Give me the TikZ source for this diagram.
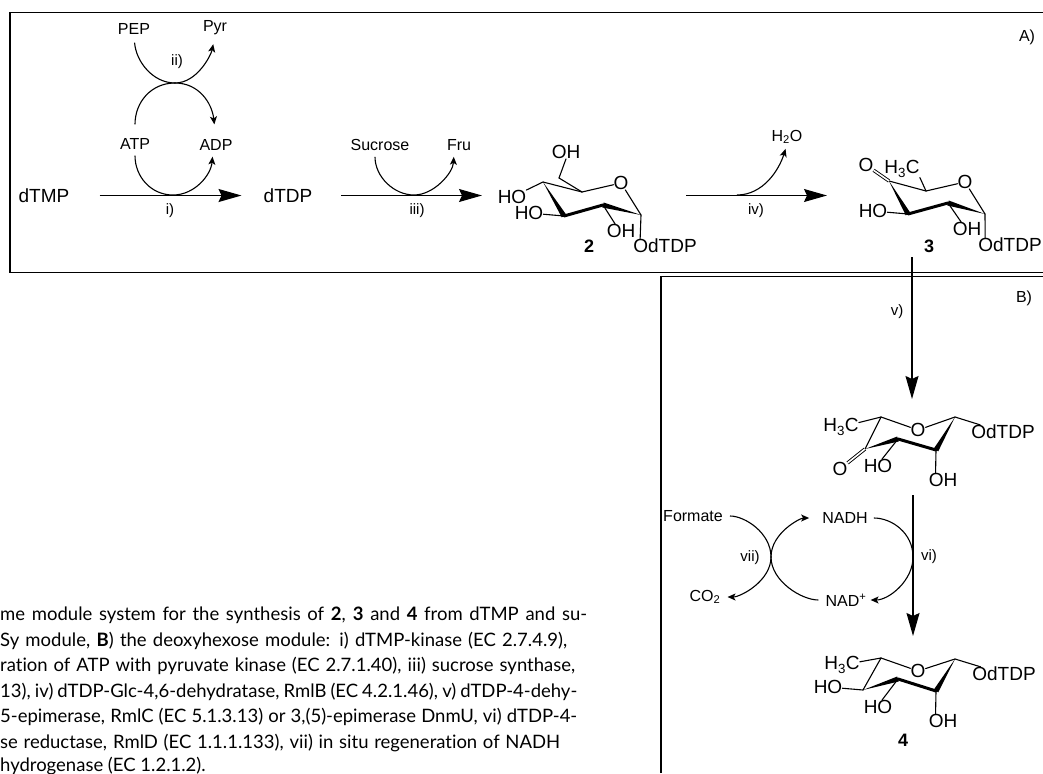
\documentclass[tikz,border=0pt]{standalone}
\usepackage{fontspec}
\setmainfont{Liberation Sans}
\newfontfamily\capfont[Ligatures=NoCommon]{Lato}
\usetikzlibrary{arrows.meta, calc}

\tikzset{
  lab/.style={inner sep=0pt,font=\fontsize{16}{18}\selectfont},
  big/.style={inner sep=0pt,font=\fontsize{19}{21}\selectfont},
  rom/.style={inner sep=0pt,font=\fontsize{15}{17}\selectfont},
  num/.style={inner sep=0pt,font=\fontsize{18}{20}\selectfont\bfseries},
  capl/.style={anchor=base west,inner sep=0pt,font=\fontsize{18.5}{20}\selectfont\capfont},
  frame/.style={line width=1.3pt},
  bond/.style={line width=1.1pt,line cap=round},
  dbl/.style={line width=.9pt,double,double distance=1.6pt},
  thickbond/.style={line width=3pt,line cap=round},
  main/.style={line width=1.3pt,-{Stealth[length=23pt,width=13pt,inset=3pt]}},
  cofa/.style={line width=1.1pt,-{Stealth[length=8pt,width=7pt,inset=2pt]}}
}
\newcommand{\wedgebond}[2]{\fill (#1) -- ($(#2)!2.6pt!90:(#1)$) -- ($(#2)!2.6pt!-90:(#1)$) -- cycle;}
\newcommand{\capline}[2]{\makebox[#1pt][s]{#2}}

\begin{document}
\begin{tikzpicture}[x=1pt,y=-1pt]
  \useasboundingbox (0,0) rectangle (1043,773);
  \clip (0,0) rectangle (1043,773);

  % boxes
  \draw[frame](1043,12.5)--(10,12.5)--(10,272.5)--(1043,272.5);
  \draw[frame](661,773)--(661,276.5)--(1043,276.5);
  \node[lab](boxa) at (1027,37){A)};
  \node[lab](boxb) at (1024,298){B)};

  % module A, upper row
  \node[big](dtmp) at (44,195.5){dTMP};
  \node[big](dtdp) at (288,195.5){dTDP};
  \node[lab](pep) at (134,29){PEP};
  \node[lab](pyr) at (215,28){Pyr};
  \node[lab](atp) at (135,144){ATP};
  \node[lab](adp) at (216,145){ADP};
  \node[lab](suc) at (380,145){Sucrose};
  \node[lab](fru) at (459,145){Fru};
  \node[lab](hho) at (787,137){H\textsubscript{2}O};
  \node[rom](ri) at (170,211){i)};
  \node[rom](rii) at (177,62){ii)};
  \node[rom](riii) at (417,211){iii)};
  \node[rom](riv) at (756,211){iv)};
  \coordinate (mii) at (175,83);
  \coordinate (mi) at (173,195);
  \coordinate (miii) at (414,195);
  \coordinate (miv) at (737,195);
  \coordinate (ain) at (686,195.5);
  \coordinate (aout) at (827,195.5);
  \coordinate (ring) at (482,195.5);

  \draw[main,shorten <=30pt,shorten >=22pt](dtmp.east)--(dtdp.west);
  \draw[main,shorten <=29pt](dtdp.east)--(ring);
  \draw[main](ain)--(aout);
  \draw[cofa,shorten <=8pt,shorten >=9pt](pep.south)..controls +(2,27) and +(-22,0)..(mii)
    ..controls +(22,0) and +(-4,20)..(pyr.south);
  \draw[cofa,shorten <=14pt,shorten >=15pt](atp.north)..controls +(0,-36) and +(-24,0)..(mii)
    ..controls +(24,0) and +(-4,-36)..(adp.north);
  \draw[cofa,shorten <=6pt,shorten >=6pt](atp.south)..controls +(0,27) and +(-22,0)..(mi)
    ..controls +(22,0) and +(-2,24)..([xshift=-3pt]adp.south);
  \draw[cofa,shorten <=6pt,shorten >=6pt]([xshift=-5pt]suc.south)..controls +(0,26) and +(-20,0)..(miii)
    ..controls +(20,0) and +(-1,22)..([xshift=-5pt]fru.south);
  \draw[cofa,shorten >=5pt](miv)..controls +(26,0) and +(-8,26)..(hho.south);

  % compound 2
  \coordinate (a1) at (641,215);
  \coordinate (a2) at (603,205);
  \coordinate (a3) at (564,216);
  \coordinate (a4) at (543,182);
  \coordinate (a5) at (582,192);
  \coordinate (a6) at (559,178);
  \node[big](ao) at (621,183){O};
  \node[big](aoh) at (566,152){OH};
  \node[big](aho) at (512,197){HO};
  \node[big](ahob) at (529,213){HO};
  \node[big](aohb) at (621,231){OH};
  \node[big](aod) at (665,246){OdTDP};
  \node[num](n2) at (589,246){2};
  \foreach \p/\q in {a4/a5,a5/ao,ao/a1,a5/a6}{
    \draw[bond](\p)--(\q);}
  \draw[bond](a6)--(aoh.south);
  \draw[bond](a4)--(aho);
  \draw[bond](a3)--(ahob);
  \draw[bond](a2)--(aohb.130);
  \draw[bond](a1)--([xshift=7pt]aod.north west);
  \wedgebond{a4}{a3}
  \draw[thickbond](a3)--(a2);
  \wedgebond{a1}{a2}

  % compound 3
  \coordinate (b1) at (985,214);
  \coordinate (b2) at (948,203);
  \coordinate (b3) at (908,214);
  \coordinate (b4) at (889,181);
  \coordinate (b5) at (926,191);
  \node[big](bo) at (965,182){O};
  \node[big](boo) at (866,165){O};
  \node[big](bme) at (902,169){H\textsubscript{3}C};
  \node[big](bho) at (873,211){HO};
  \node[big](boh) at (967,229){OH};
  \node[big](bod) at (1010,245){OdTDP};
  \node[num](n3) at (929,246){3};
  \foreach \p/\q in {b4/b5,b5/bo,bo/b1}{
    \draw[bond](\p)--(\q);}
  \draw[dbl](b4)--(boo);
  \draw[bond](b5)--(bme.south east);
  \draw[bond](b3)--(bho);
  \draw[bond](b2)--(boh.130);
  \draw[bond](b1)--([xshift=7pt]bod.north west);
  \wedgebond{b4}{b3}
  \draw[thickbond](b3)--(b2);
  \wedgebond{b1}{b2}

  % arrow v and the keto sugar
  \coordinate (vin) at (912,257);
  \coordinate (vout) at (912,399);
  \draw[main](vin)--(vout);
  \node[rom](rv) at (897,312){v)};
  \coordinate (c1) at (955,417);
  \coordinate (c2) at (936,450);
  \coordinate (c3) at (898,439);
  \coordinate (c4) at (865,449);
  \coordinate (c5) at (881,417);
  \node[big](co) at (918,430){O};
  \node[big](coo) at (840,469){O};
  \node[big](cme) at (841,427){H\textsubscript{3}C};
  \node[big](cho) at (878,466){HO};
  \node[big](coh) at (943,480){OH};
  \node[big](cod) at (1003,432){OdTDP};
  \foreach \p/\q in {c4/c5,c5/co,co/c1}{
    \draw[bond](\p)--(\q);}
  \draw[dbl](c4)--(coo);
  \draw[bond](c5)--(cme);
  \draw[bond](c3)--(cho.60);
  \draw[bond](c2)--([xshift=7pt]coh.north west);
  \draw[bond](c1)--(cod);
  \wedgebond{c4}{c3}
  \draw[thickbond](c3)--(c2);
  \wedgebond{c1}{c2}

  % arrow vi with both cofactor loops
  \coordinate (viin) at (913,495);
  \coordinate (viout) at (913,636);
  \coordinate (mvi) at (913,557);
  \coordinate (mvii) at (771,557);
  \draw[main](viin)--(viout);
  \node[lab](form) at (693,516){Formate};
  \node[lab](coo2) at (705,597){CO\textsubscript{2}};
  \node[lab](nadh) at (845,518){NADH};
  \node[lab](nad) at (846,600){NAD\textsuperscript{+}};
  \node[rom](rvi) at (929,557){vi)};
  \node[rom](rvii) at (750,558){vii)};
  \draw[cofa,shorten <=7pt,shorten >=7pt](form.east)..controls +(22,0) and +(0,-24)..(mvii)
    ..controls +(0,24) and +(20,0)..(coo2.east);
  \draw[cofa,shorten <=7pt,shorten >=13pt](nad.west)..controls +(-24,0) and +(0,24)..(mvii)
    ..controls +(0,-24) and +(-22,0)..(nadh.west);
  \draw[cofa,shorten <=6pt,shorten >=4pt](nadh.east)..controls +(24,0) and +(0,-24)..(mvi)
    ..controls +(0,24) and +(22,0)..(nad.east);

  % compound 4
  \coordinate (d1) at (955,659);
  \coordinate (d2) at (936,691);
  \coordinate (d3) at (898,679);
  \coordinate (d4) at (863,690);
  \coordinate (d5) at (881,658);
  \node[big](do) at (918,671){O};
  \node[big](dme) at (842,665){H\textsubscript{3}C};
  \node[big](dho) at (828,687){HO};
  \node[big](dhob) at (878,707){HO};
  \node[big](doh) at (943,721){OH};
  \node[big](dod) at (1004,674){OdTDP};
  \node[num](n4) at (903,740){4};
  \foreach \p/\q in {d4/d5,d5/do,do/d1}{
    \draw[bond](\p)--(\q);}
  \draw[bond](d5)--(dme);
  \draw[bond](d4)--(dho);
  \draw[bond](d3)--(dhob.60);
  \draw[bond](d2)--([xshift=7pt]doh.north west);
  \draw[bond](d1)--(dod);
  \wedgebond{d4}{d3}
  \draw[thickbond](d3)--(d2);
  \wedgebond{d1}{d2}

  % text under the panels
  \node[capl](la) at (0,620){\capline{587}{me module system for the synthesis of \textbf{2}, \textbf{3} and \textbf{4} from dTMP and su-}};
  \node[capl](lb) at (0,646){\capline{567}{Sy module, \textbf{B}) the deoxyhexose module: i) dTMP-kinase (EC 2.7.4.9),}};
  \node[capl](lc) at (0,671){\capline{575}{ration of ATP with pyruvate kinase (EC 2.7.1.40), iii) sucrose synthase,}};
  \node[capl](ld) at (0,697){\capline{577}{13), iv) dTDP-Glc-4,6-dehydratase, RmlB (EC 4.2.1.46), v) dTDP-4-dehy-}};
  \node[capl](le) at (0,722){\capline{577}{5-epimerase, RmlC (EC 5.1.3.13) or 3,(5)-epimerase DnmU, vi) dTDP-4-}};
  \node[capl](lf) at (0,748){\capline{560}{se reductase, RmlD (EC 1.1.1.133), vii) in situ regeneration of NADH}};
  \node[capl](lg) at (0,771){hydrogenase (EC 1.2.1.2).};
\end{tikzpicture}
\end{document}
